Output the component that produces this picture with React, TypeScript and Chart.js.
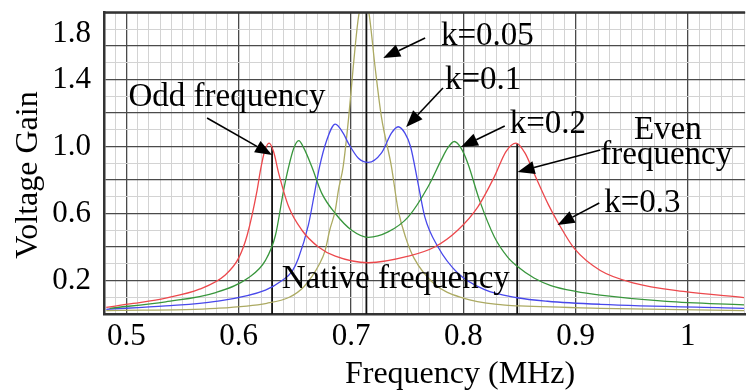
import React, { useEffect, useRef } from 'react';
import { Chart, registerables } from 'chart.js';

Chart.register(...registerables);

// ---- data ----
const k03X = [0.482, 0.506, 0.535, 0.565, 0.588, 0.600, 0.6075, 0.6164, 0.6194, 0.623, 0.627, 0.631, 0.6356, 0.6445, 0.6563, 0.671, 0.686, 0.7154, 0.751, 0.7745, 0.795, 0.813, 0.8277, 0.838, 0.847, 0.855, 0.863, 0.876, 0.884, 0.899, 0.922, 0.952, 0.996, 1.05];
const k03Y = [0.04, 0.063, 0.095, 0.148, 0.233, 0.335, 0.47, 0.74, 0.86, 0.97, 1.02, 0.97, 0.84, 0.64, 0.50, 0.40, 0.345, 0.306, 0.345, 0.40, 0.50, 0.64, 0.82, 0.97, 1.02, 0.96, 0.84, 0.65, 0.55, 0.39, 0.26, 0.185, 0.135, 0.098];

const k02X = [0.485, 0.535, 0.5795, 0.609, 0.6238, 0.6327, 0.640, 0.6445, 0.649, 0.6534, 0.658, 0.665, 0.674, 0.686, 0.7006, 0.7154, 0.733, 0.751, 0.7686, 0.7804, 0.786, 0.792, 0.798, 0.804, 0.8144, 0.8277, 0.8395, 0.848, 0.863, 0.878, 0.90, 0.922, 0.981, 1.05];
const k02Y = [0.034, 0.073, 0.128, 0.218, 0.32, 0.47, 0.74, 0.88, 0.99, 1.035, 0.99, 0.88, 0.72, 0.60, 0.50, 0.458, 0.49, 0.58, 0.76, 0.92, 0.99, 1.03, 0.99, 0.90, 0.68, 0.46, 0.34, 0.285, 0.215, 0.17, 0.135, 0.113, 0.075, 0.054];

const k01X = [0.482, 0.535, 0.5795, 0.6238, 0.6386, 0.6475, 0.653, 0.662, 0.668, 0.672, 0.678, 0.686, 0.693, 0.6977, 0.7066, 0.7154, 0.727, 0.736, 0.742, 0.748, 0.753, 0.7597, 0.7657, 0.7775, 0.795, 0.819, 0.848, 0.875, 0.922, 1.05];
const k01Y = [0.028, 0.048, 0.075, 0.143, 0.2, 0.255, 0.33, 0.53, 0.74, 0.88, 1.03, 1.134, 1.08, 1.019, 0.93, 0.905, 0.96, 1.08, 1.118, 1.08, 1.0, 0.78, 0.58, 0.40, 0.245, 0.145, 0.097, 0.076, 0.058, 0.034];

const k005X = [0.482, 0.58, 0.625, 0.645, 0.658, 0.672, 0.677, 0.681, 0.686, 0.6888, 0.693, 0.698, 0.702, 0.7066, 0.7115, 0.716, 0.7214, 0.727, 0.736, 0.742, 0.749, 0.756, 0.7745, 0.80, 0.835, 0.85, 0.922, 1.05];
const k005Y = [0.02, 0.034, 0.064, 0.10, 0.163, 0.30, 0.38, 0.50, 0.62, 0.74, 0.88, 1.18, 1.476, 1.77, 1.9, 1.795, 1.476, 1.18, 0.88, 0.62, 0.45, 0.335, 0.178, 0.095, 0.054, 0.048, 0.034, 0.02];

const markerFreqs = [0.6297, 0.7137, 0.848]; // odd, native, even
const markerTops = [1.0, 1.8, 1.02];

const xTickValues = [0.5, 0.6, 0.7, 0.8, 0.9, 1.0];
const xTickLabels = ['0.5', '0.6', '0.7', '0.8', '0.9', '1'];
const yTickValues = [0.2, 0.6, 1.0, 1.4, 1.8];
const yTickLabels = ['0.2', '0.6', '1.0', '1.4', '1.8'];

const xTitle = 'Frequency (MHz)';
const yTitle = 'Voltage Gain';

const labelTexts = ['Odd frequency', 'k=0.05', 'k=0.1', 'k=0.2', 'Even', 'frequency', 'k=0.3', 'Native frequency'];
const labelX = [0.5018, 0.7801, 0.7837, 0.8413, 0.952, 0.922, 0.9255, 0.6383];
const labelY = [1.239, 1.606, 1.343, 1.082, 1.043, 0.896, 0.611, 0.153];

const arrowFromX = [0.5718, 0.766, 0.7819, 0.8369, 0.922, 0.9211];
const arrowFromY = [1.170, 1.648, 1.349, 1.122, 0.979, 0.663];
const arrowToX = [0.6297, 0.7287, 0.7491, 0.7979, 0.8484, 0.8839];
const arrowToY = [0.949, 1.528, 1.116, 0.997, 0.848, 0.531];

const FONT = "'Liberation Serif', 'Times New Roman', serif";

const zip = (xs: number[], ys: number[]) => xs.map((x, i) => ({ x, y: ys[i] }));
const isMult = (v: number, step: number) => Math.abs(v / step - Math.round(v / step)) < 1e-6;

export default function App() {
  const ref = useRef<HTMLCanvasElement | null>(null);

  useEffect(() => {
    const canvas = ref.current;
    if (!canvas) return;

    const curve = (label: string, xs: number[], ys: number[], color: string) => ({
      label,
      data: zip(xs, ys),
      borderColor: color,
      backgroundColor: color,
      borderWidth: 1.3,
      pointRadius: 0,
      fill: false,
      cubicInterpolationMode: 'monotone' as const,
    });

    const markers = markerFreqs.map((f, i) => ({
      label: 'marker' + i,
      data: [{ x: f, y: 0 }, { x: f, y: markerTops[i] }],
      borderColor: '#111',
      borderWidth: 1.8,
      pointRadius: 0,
      tension: 0,
      fill: false,
    }));

    const overlay = {
      id: 'overlay',
      afterDraw(chart: any) {
        const { ctx, chartArea, scales } = chart;
        const xs = scales.x;
        const ys = scales.y;
        ctx.save();
        // top border
        ctx.strokeStyle = '#333';
        ctx.lineWidth = 2.5;
        ctx.beginPath();
        ctx.moveTo(chartArea.left, chartArea.top);
        ctx.lineTo(chartArea.right, chartArea.top);
        ctx.stroke();

        ctx.fillStyle = '#000';
        // y tick labels
        ctx.font = `31px ${FONT}`;
        ctx.textAlign = 'right';
        ctx.textBaseline = 'middle';
        yTickValues.forEach((v, i) => {
          let py = ys.getPixelForValue(v);
          if (py < chartArea.top + 21) py = chartArea.top + 21;
          ctx.fillText(yTickLabels[i], 91, py);
        });

        // axis titles
        ctx.font = `32px ${FONT}`;
        ctx.textAlign = 'center';
        ctx.textBaseline = 'alphabetic';
        ctx.fillText(xTitle, 460, 383);
        ctx.save();
        ctx.translate(37, 175);
        ctx.rotate(-Math.PI / 2);
        ctx.fillText(yTitle, 0, 0);
        ctx.restore();

        // annotation texts
        ctx.font = `33px ${FONT}`;
        ctx.textAlign = 'left';
        labelTexts.forEach((t, i) => {
          ctx.fillText(t, xs.getPixelForValue(labelX[i]), ys.getPixelForValue(labelY[i]));
        });

        // arrows
        ctx.strokeStyle = '#000';
        ctx.fillStyle = '#000';
        ctx.lineWidth = 1.6;
        arrowFromX.forEach((_, i) => {
          const x0 = xs.getPixelForValue(arrowFromX[i]);
          const y0 = ys.getPixelForValue(arrowFromY[i]);
          const x1 = xs.getPixelForValue(arrowToX[i]);
          const y1 = ys.getPixelForValue(arrowToY[i]);
          const ang = Math.atan2(y1 - y0, x1 - x0);
          const L = 17, W = 6.5;
          const bx = x1 - L * Math.cos(ang);
          const by = y1 - L * Math.sin(ang);
          ctx.beginPath();
          ctx.moveTo(x0, y0);
          ctx.lineTo(bx, by);
          ctx.stroke();
          ctx.beginPath();
          ctx.moveTo(x1, y1);
          ctx.lineTo(bx + W * Math.sin(ang), by - W * Math.cos(ang));
          ctx.lineTo(bx - W * Math.sin(ang), by + W * Math.cos(ang));
          ctx.closePath();
          ctx.fill();
        });
        ctx.restore();
      },
    };

    const chart = new Chart(canvas, {
      type: 'line',
      data: {
        datasets: [
          curve('k=0.3', k03X, k03Y, 'rgb(236,72,76)'),
          curve('k=0.2', k02X, k02Y, 'rgb(56,150,60)'),
          curve('k=0.1', k01X, k01Y, 'rgb(72,72,235)'),
          curve('k=0.05', k005X, k005Y, 'rgb(172,170,98)'),
          ...markers,
        ] as any,
      },
      options: {
        responsive: false,
        devicePixelRatio: 1,
        animation: false,
        events: [],
        layout: { padding: { top: 12.5, left: 0, right: 0, bottom: 0 } },
        plugins: { legend: { display: false }, tooltip: { enabled: false }, title: { display: false } },
        scales: {
          x: {
            type: 'linear',
            min: 0.48,
            max: 1.051,
            afterBuildTicks: (scale: any) => {
              const t = [];
              for (let i = 48; i <= 105; i++) t.push({ value: i / 100 });
              scale.ticks = t;
            },
            afterFit: (scale: any) => { scale.height = 76; },
            ticks: {
              autoSkip: false,
              maxRotation: 0,
              minRotation: 0,
              padding: 4,
              color: '#000',
              font: { family: FONT, size: 31 },
              callback: (value: any) => {
                const idx = xTickValues.findIndex((t) => Math.abs(t - Number(value)) < 1e-6);
                return idx >= 0 ? xTickLabels[idx] : '';
              },
            },
            grid: {
              drawTicks: false,
              color: (c: any) => (c.tick && isMult(c.tick.value, 0.1) ? '#4a4a4a' : '#d3d3d3'),
              lineWidth: (c: any) => (c.tick && isMult(c.tick.value, 0.1) ? 1.3 : 1),
            },
            border: { display: true, color: '#333', width: 2.5 },
          },
          y: {
            type: 'linear',
            min: 0,
            max: 1.8,
            afterBuildTicks: (scale: any) => {
              const t = [];
              for (let i = 0; i <= 18; i++) t.push({ value: i / 10 });
              scale.ticks = t;
            },
            afterFit: (scale: any) => { scale.width = 104; },
            ticks: { display: false },
            grid: {
              drawTicks: false,
              color: (c: any) => (c.tick && isMult(c.tick.value, 0.2) ? '#4a4a4a' : '#d3d3d3'),
              lineWidth: (c: any) => (c.tick && isMult(c.tick.value, 0.2) ? 1.3 : 1),
            },
            border: { display: true, color: '#333', width: 2.5 },
          },
        },
      } as any,
      plugins: [overlay],
    });

    return () => chart.destroy();
  }, []);

  return (
    <div style={{ position: 'fixed', left: 0, top: 0, width: 748, height: 390, background: '#fff' }}>
      <canvas ref={ref} width={748} height={390} style={{ display: 'block', width: 748, height: 390 }} />
    </div>
  );
}
